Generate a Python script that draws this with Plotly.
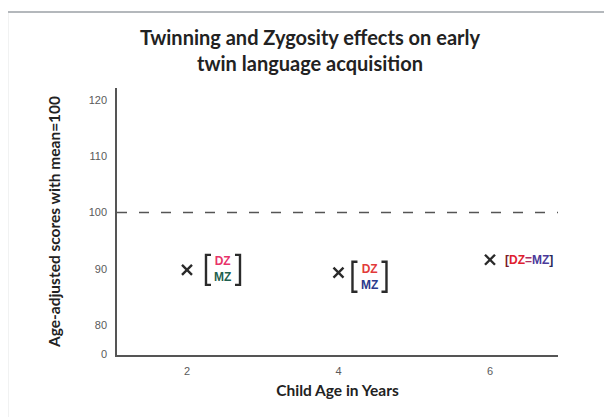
import plotly.graph_objects as go

# data
ages = [2, 4, 6]
scores = [89.8, 89.3, 91.6]
mean_score = 100

x_ticks = [2, 4, 6]
y_tickvals = [74.85, 80, 90, 100, 110, 120]
y_ticktext = ["0", "80", "90", "100", "110", "120"]

title = "<b>Twinning and Zygosity effects on early<br>twin language acquisition</b>"
x_title = "<b>Child Age in Years</b>"
y_title = "<b>Age-adjusted scores with mean=100</b>"

fig = go.Figure()

fig.add_trace(go.Scatter(
    x=ages, y=scores, mode="markers",
    marker=dict(symbol="x-thin", size=10, line=dict(width=2.4, color="#2a2a2a")),
    showlegend=False, hoverinfo="x+y",
))

# dashed mean line
fig.add_shape(type="line", xref="paper", x0=0, x1=1, yref="y", y0=mean_score, y1=mean_score,
              line=dict(color="#555555", width=1.6, dash="10px,12px"))

# outer frame of the figure
fig.add_shape(type="rect", xref="paper", yref="paper", x0=-0.249, x1=1.3, y0=-0.4, y1=1.285,
              line=dict(color="#b4b8bc", width=2), fillcolor="rgba(0,0,0,0)")


def bracket(xv, yv, left, right, dy, half=15):
    for edge, sign in ((left, 1), (right, -1)):
        fig.add_shape(
            type="path", xref="x", yref="y", xsizemode="pixel", ysizemode="pixel",
            xanchor=xv, yanchor=yv,
            path=f"M{edge + 5 * sign},{dy - half} H{edge} V{dy + half} H{edge + 5 * sign}",
            line=dict(color="#2b2b2b", width=2.4),
        )


stack_font = dict(family="Liberation Sans", size=12)

# age 2
bracket(ages[0], scores[0], 19, 53, 0)
fig.add_annotation(x=ages[0], y=scores[0], xshift=36, yshift=1, showarrow=False,
                   text="<b><span style='color:#e8336a'>DZ</span><br>"
                        "<span style='color:#1f5f4f'>MZ</span></b>",
                   font=stack_font)
# age 4
bracket(ages[1], scores[1], 14, 48, -4)
fig.add_annotation(x=ages[1], y=scores[1], xshift=31, yshift=-4, showarrow=False,
                   text="<b><span style='color:#e23a3a'>DZ</span><br>"
                        "<span style='color:#2b3a8c'>MZ</span></b>",
                   font=stack_font)
# age 6
fig.add_annotation(x=ages[2], y=scores[2], xshift=13, xanchor="left", showarrow=False,
                   text="<b><span style='color:#7a1c2a'>[</span>"
                        "<span style='color:#e0202f'>DZ</span>"
                        "<span style='color:#b03060'>=</span>"
                        "<span style='color:#4a3a9a'>MZ</span>"
                        "<span style='color:#2a2a5a'>]</span></b>",
                   font=dict(family="Liberation Sans", size=12))

fig.update_layout(
    width=604, height=409,
    margin=dict(l=109, r=54, t=80, b=62),
    paper_bgcolor="white", plot_bgcolor="white",
    title=dict(text=title, x=0.5, xanchor="center", y=0.909, yanchor="middle",
               font=dict(family="Lato", size=20, color="#222222")),
    xaxis=dict(
        range=[1.076, 6.898], tickvals=x_ticks, showgrid=False, zeroline=False,
        showline=True, linecolor="#555555", linewidth=1.5,
        ticklabelstandoff=5,
        tickfont=dict(family="Liberation Sans", size=11, color="#5a5a5a"),
        title=dict(text=x_title, font=dict(family="Lato", size=15.5, color="#222222"), standoff=9),
    ),
    yaxis=dict(
        range=[74.67, 122.13], tickvals=y_tickvals, ticktext=y_ticktext,
        showgrid=False, zeroline=False,
        showline=True, linecolor="#555555", linewidth=1.5,
        ticklabelstandoff=6,
        tickfont=dict(family="Liberation Sans", size=11, color="#5a5a5a"),
        title=dict(text=y_title, font=dict(family="Lato", size=15.5, color="#222222"), standoff=24),
    ),
)

fig.write_html("out.html")
